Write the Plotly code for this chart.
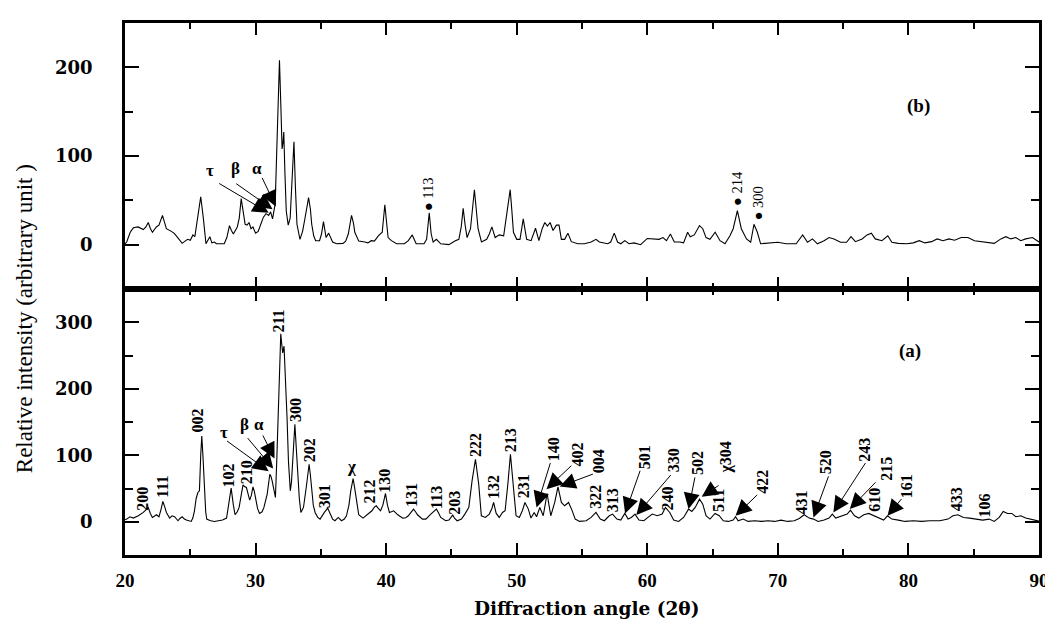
import plotly.graph_objects as go
from plotly.subplots import make_subplots

# ---------------- data ----------------
top_angle = [20.0, 20.13, 20.4, 20.64, 21.0, 21.2, 21.4, 21.6, 21.78, 21.95, 22.1, 22.4, 22.6, 22.87, 23.0,
             23.17, 23.55, 23.75, 23.93, 24.15, 24.38, 24.6, 24.8, 25.0, 25.2, 25.35, 25.5, 25.8, 26.0, 26.1,
             26.2, 26.35, 26.5, 26.65, 26.85, 27.0, 27.2, 27.6, 27.8, 28.0, 28.15, 28.3, 28.6, 28.75, 28.9,
             29.05, 29.2, 29.35, 29.5, 29.65, 29.8, 30.0, 30.2, 30.4, 30.6, 30.8, 31.0, 31.15, 31.3, 31.5,
             31.65, 31.83, 31.95, 32.03, 32.1, 32.16, 32.25, 32.35, 32.5, 32.65, 32.75, 32.94, 33.05, 33.17,
             33.4, 33.6, 33.75, 33.9, 34.06, 34.2, 34.3, 34.45, 34.6, 34.9, 35.05, 35.2, 35.3, 35.4, 35.6,
             35.75, 35.9, 36.2, 36.7, 36.9, 37.1, 37.35, 37.5, 37.6, 37.9, 38.36, 38.6, 38.86, 39.1, 39.4,
             39.7, 39.9, 40.05, 40.15, 40.4, 40.6, 40.8, 41.4, 41.7, 42.0, 42.15, 42.3, 42.9, 43.1, 43.3,
             43.45, 43.6, 43.85, 44.18, 44.8, 45.3, 45.57, 45.75, 45.9, 46.05, 46.2, 46.46, 46.6, 46.76, 46.9,
             47.04, 47.3, 47.7, 47.9, 48.1, 48.35, 48.66, 49.0, 49.24, 49.5, 49.62, 49.75, 50.0, 50.25, 50.5,
             50.65, 50.76, 51.1, 51.44, 51.7, 51.95, 52.15, 52.35, 52.56, 52.78, 53.04, 53.24, 53.42, 53.67,
             53.92, 54.18, 54.68, 55.19, 55.7, 56.07, 56.33, 56.96, 57.2, 57.47, 57.72, 57.97, 58.28, 58.6,
             58.99, 59.49, 60.0, 60.5, 60.9, 61.2, 61.47, 61.77, 62.07, 62.5, 62.78, 63.09, 63.29, 63.6, 64.0,
             64.25, 64.5, 64.8, 65.2, 65.57, 65.95, 66.33, 66.58, 66.9, 67.2, 67.6, 67.92, 68.17, 68.43, 68.68,
             69.24, 70.0, 70.63, 71.4, 71.9, 72.27, 72.65, 73.03, 73.54, 73.92, 74.3, 74.8, 75.26, 75.6, 75.94,
             76.45, 76.83, 77.16, 77.46, 77.97, 78.42, 78.73, 79.23, 79.87, 80.37, 80.83, 81.26, 81.77, 82.2,
             82.65, 83.1, 83.54, 84.04, 84.55, 85.06, 85.56, 86.07, 86.57, 87.08, 87.46, 87.84, 88.22, 88.6,
             88.98, 89.5, 90.0]
top_intensity = [1, 3, 14, 19, 20, 18, 17, 20, 25, 18, 14, 20, 22, 33, 25,
                 18, 15, 13, 10, 6, 1.5, 4, 6, 5, 11, 9, 23, 54, 30, 15,
                 1, 5, 9, 2, 3, 1, 1, 1, 8, 21.5, 16, 12, 20, 30, 52,
                 38, 23, 22, 25, 18, 20, 13, 15, 23, 31, 35, 33, 37, 29, 46,
                 130, 208, 150, 108, 115, 127, 80, 38, 22, 30, 60, 116, 65, 23,
                 6, 15, 27, 40, 53, 40, 23, 10, 4.5, 4.5, 12, 26, 14, 8, 13,
                 7, 3, 1, 1.5, 4, 12, 33, 24, 14, 4, 3, 2, 4.5, 4, 10,
                 14, 45, 20, 8, 4.5, 3, 1, 1, 4.5, 11, 5, 1, 1, 6, 36,
                 12, 3, 6, 1, 0, 4.5, 6, 20, 41, 22, 8, 18, 40, 62, 40,
                 18, 3, 6, 12, 20, 8, 11, 10, 33, 62, 40, 14, 6, 6, 29,
                 14, 6, 4.5, 18.5, 4.5, 18, 25, 21, 25, 16, 22, 22, 6, 6,
                 13, 3.4, 1, 1, 3, 6, 3, 1, 3, 13, 3, 1, 4.5, 1,
                 2, 0, 7, 6, 6, 8, 4.5, 12, 3, 3, 2, 14, 9, 11, 21.5,
                 18, 8, 6, 14, 4.5, 1, 10, 18, 38.5, 18, 6.5, 2.7, 23, 14, 1,
                 1.5, 2.7, 1, 1, 11, 2.7, 6.5, 1, 4.5, 8, 6.5, 2.7, 2.7, 9, 3.4,
                 6.5, 11, 13, 6.5, 4.5, 10, 2.7, 1.5, 1, 2, 4.5, 2, 3.4, 6.5,
                 4.5, 6.5, 5, 8, 8, 4.5, 3.4, 2.7, 1.5, 6.5, 9, 6.5, 8, 4.5,
                 6.5, 8, 3]

bottom_angle = [20.0, 20.13, 20.38, 20.64, 21.02, 21.2, 21.4, 21.6, 21.78, 21.95, 22.1, 22.41, 22.6, 22.75,
                22.9, 23.05, 23.17, 23.42, 23.6, 23.8, 24.06, 24.2, 24.38, 24.55, 24.7, 25.07, 25.2, 25.32,
                25.45, 25.58, 25.7, 25.8, 25.88, 25.98, 26.08, 26.18, 26.26, 26.5, 26.84, 27.2, 27.47, 27.78,
                27.95, 28.13, 28.3, 28.43, 28.6, 28.74, 28.9, 29.04, 29.15, 29.3, 29.45, 29.55, 29.68, 29.8,
                29.9, 30.0, 30.15, 30.3, 30.5, 30.64, 30.89, 31.09, 31.18, 31.27, 31.4, 31.52, 31.62, 31.72,
                31.85, 31.93, 32.0, 32.08, 32.18, 32.3, 32.41, 32.52, 32.66, 32.75, 32.84, 32.92, 33.01, 33.12,
                33.24, 33.35, 33.47, 33.67, 33.88, 34.0, 34.1, 34.2, 34.3, 34.42, 34.56, 34.75, 34.94, 35.1,
                35.27, 35.52, 35.65, 35.77, 35.9, 36.08, 36.33, 36.58, 36.8, 36.96, 37.15, 37.29, 37.47, 37.58,
                37.67, 37.8, 37.9, 38.23, 38.4, 38.61, 38.91, 39.1, 39.24, 39.4, 39.57, 39.75, 39.95, 40.1,
                40.25, 40.4, 40.58, 40.89, 41.27, 41.5, 41.7, 41.9, 42.1, 42.25, 42.4, 42.78, 43.04, 43.42,
                43.85, 44.0, 44.18, 44.56, 44.81, 45.1, 45.25, 45.44, 45.77, 46.03, 46.33, 46.58, 46.84, 47.09,
                47.2, 47.29, 47.6, 47.9, 48.1, 48.23, 48.43, 48.66, 48.91, 49.11, 49.32, 49.52, 49.75, 49.85,
                49.95, 50.2, 50.43, 50.63, 50.89, 51.09, 51.34, 51.52, 51.77, 52.03, 52.2, 52.33, 52.47, 52.61,
                52.91, 53.16, 53.3, 53.42, 53.67, 53.97, 54.23, 54.48, 54.81, 55.32, 55.7, 56.07, 56.4, 56.71,
                57.09, 57.34, 57.67, 57.97, 58.28, 58.53, 58.78, 59.06, 59.36, 59.74, 60.05, 60.38, 60.76,
                61.14, 61.39, 61.72, 62.02, 62.4, 62.78, 63.16, 63.41, 63.67, 64.0, 64.25, 64.5, 64.8, 65.19,
                65.51, 65.82, 66.2, 66.58, 66.76, 66.96, 67.34, 67.72, 68.22, 68.73, 69.24, 69.74, 70.25,
                70.76, 71.26, 71.64, 72.02, 72.4, 72.73, 73.08, 73.54, 73.92, 74.17, 74.43, 74.75, 75.06,
                75.31, 75.56, 75.87, 76.2, 76.58, 76.96, 77.34, 77.72, 78.1, 78.4, 78.73, 79.23, 79.74, 80.37,
                81.0, 81.64, 82.4, 83.03, 83.41, 83.79, 84.22, 84.68, 85.18, 85.69, 86.19, 86.57, 86.95, 87.26,
                87.59, 87.92, 88.22, 88.6, 88.98, 89.5, 90.0]
bottom_intensity = [3, 4, 7.5, 5.5, 9, 11, 14, 18, 21.5, 12, 6.5, 10.5, 7.5, 18,
                    30.5, 22, 14, 5.5, 9, 7.5, 1.5, 5, 7.5, 4, 2.5, 0.5, 6, 16.5,
                    35, 44, 46.5, 100, 129, 95, 46.5, 15, 4, 2, 0.5, 1.5, 2.5, 5.5,
                    25, 50.5, 25, 10.5, 15, 21.5, 40, 55.5, 53, 51.5, 40, 32.5, 40, 52.5,
                    46, 36.5, 20, 12.5, 15, 21.5, 41.5, 71.5, 68, 61.5, 45, 36.5, 90, 156.5,
                    250, 282.5, 268, 254, 264, 215, 156.5, 90, 46.5, 60, 86.5, 120, 146.5, 110,
                    66.5, 35, 14, 21.5, 51.5, 75, 86.5, 70, 46.5, 25, 14, 7, 4, 8,
                    14, 20.5, 15, 9, 4, 1.5, 6.5, 1.5, 4, 9, 25, 46.5, 65, 52,
                    41.5, 20, 10.5, 5.5, 8, 11.5, 16.5, 22, 24, 20, 16.5, 25, 42.5, 25,
                    14, 15, 16.5, 10.5, 5.5, 6, 9, 14, 19, 15, 10.5, 4, 4, 11.5,
                    19, 14, 6.5, 1.5, 2.5, 10, 5, 1.5, 4, 11.5, 21.5, 61.5, 94, 56.5,
                    25, 9, 6.5, 11.5, 20, 29, 12.5, 6.5, 14, 16.5, 56.5, 101.5, 51.5, 25,
                    9, 6.5, 16.5, 29, 19, 5.5, 14, 7.5, 21.5, 9, 25, 42.5, 25, 9,
                    29, 52.5, 40, 29, 24, 29, 17.5, 4, 0.5, 1.5, 6.5, 14, 4, 1.5,
                    9, 11.5, 4, 2.5, 12.5, 4, 6.5, 11.5, 2.5, 1.5, 6.5, 11.5, 9,
                    11.5, 21.5, 14, 2.5, 0.5, 6.5, 19, 15.5, 21.5, 34, 26.5, 9, 4, 12.5,
                    9, 1.5, 0.5, 2.5, 7.5, 1.5, 4, 0.5, 1.5, 0.5, 1.5, 0.5, 2.5,
                    0.5, 1.5, 5, 10.5, 5.5, 4, 0.5, 2.5, 5.5, 11.5, 5.5, 7.5, 9,
                    11.5, 17.5, 9, 5.5, 10.5, 12.5, 9, 6.5, 2.5, 9, 4, 2.5, 0.5, 1.5,
                    0.5, 1.5, 1.5, 4, 9, 10.5, 6.5, 5.5, 4, 2.5, 4, 0.5, 6.5, 15.5,
                    12.5, 12.5, 7.5, 9, 5.5, 3, 1]

x_tick_values = [20, 30, 40, 50, 60, 70, 80, 90]
top_y_ticks = [0, 100, 200]
bottom_y_ticks = [0, 100, 200, 300]

# panel (b) labels
top_peak_labels = ["\u25cf 113", "\u25cf 214", "\u25cf 300"]
top_peak_x = [43.2, 66.88, 68.5]
top_peak_y = [57, 63, 47]

phase_symbols = ["\u03c4", "\u03b2", "\u03b1"]
top_phase_x = [26.5, 28.5, 30.1]
top_phase_y = [84, 86, 86]
top_arrow_tail_x = [27.1, 28.4, 30.45]
top_arrow_tail_y = [70, 70, 77]
top_arrow_head_x = [31.0, 31.3, 31.55]
top_arrow_head_y = [36, 40, 43]

# panel (a) labels
bottom_phase_x = [27.6, 29.12, 30.26]
bottom_phase_y = [134, 146, 146]
bottom_arrow_tail_x = [27.7, 29.3, 30.5]
bottom_arrow_tail_y = [123, 128, 132]
bottom_arrow_head_x = [31.0, 31.35, 31.45]
bottom_arrow_head_y = [76, 80, 95]

plain_labels = ["200", "111", "002", "102", "210", "211", "300", "202", "301", "212", "130", "131",
                "113", "203", "222", "132", "213", "231", "322", "313", "240", "511", "431", "610",
                "433", "106"]
plain_x = [21.35, 22.9, 25.57, 27.93, 29.3, 31.77, 33.04, 34.1, 35.27, 38.74, 39.87, 41.9,
           43.85, 45.27, 46.79, 48.23, 49.49, 50.58, 56.07, 57.34, 61.52, 65.4, 71.77, 77.34,
           83.66, 85.82]
plain_y = [34, 52.5, 152, 69, 75, 302, 168.5, 107.5, 39, 45, 62.5, 40,
           36.5, 28.5, 115, 51.5, 122.5, 54, 37.5, 31.5, 35, 32.5, 29, 32.5,
           34, 25]

chi_x, chi_y = 37.34, 83

arrow_labels = ["140", "402", "004", "501", "330", "502", "\u03c7304", "422", "520", "243", "215", "161"]
arrow_text_x = [52.78, 54.63, 56.33, 59.8, 61.97, 63.84, 66.05, 68.86, 73.67, 76.63, 78.3, 79.87]
arrow_text_y = [109, 101.5, 91.5, 96.5, 92.5, 89, 97, 60, 89, 109, 80, 53]
arrow_tail_x = [52.61, 54.3, 55.95, 59.49, 61.9, 63.67, 65.57, 68.53, 73.92, 76.78, 77.59, 79.56]
arrow_tail_y = [90.5, 86.5, 72.5, 79, 72.5, 69, 56, 42.5, 70.5, 90.5, 61.5, 36.5]
arrow_head_x = [51.52, 52.28, 53.29, 58.3, 59.16, 63.16, 64.17, 66.76, 72.73, 74.25, 75.51, 78.4]
arrow_head_y = [21.5, 49, 53, 12.5, 10, 19, 37.5, 9, 6.5, 14, 19, 9]

# ---------------- figure ----------------
fig = make_subplots(rows=2, cols=1, shared_xaxes=True, vertical_spacing=0)

fig.add_trace(go.Scatter(x=top_angle, y=top_intensity, mode="lines",
                         line=dict(color="black", width=1.1), showlegend=False), row=1, col=1)
fig.add_trace(go.Scatter(x=bottom_angle, y=bottom_intensity, mode="lines",
                         line=dict(color="black", width=1.1), showlegend=False), row=2, col=1)

SERIF = "Liberation Serif"
axis_common = dict(showline=True, linecolor="black", linewidth=2.5, mirror="allticks",
                   ticks="inside", tickcolor="black", tickwidth=2, showgrid=False, zeroline=False)

fig.update_xaxes(range=[20, 90], tickvals=x_tick_values, ticklen=12,
                 minor=dict(dtick=5, tick0=20, ticks="inside", ticklen=6, tickcolor="black", tickwidth=2),
                 **axis_common)
fig.update_xaxes(showticklabels=False, row=1, col=1)
fig.update_xaxes(showticklabels=True, ticklabelstandoff=6,
                 tickfont=dict(family=SERIF, size=19, color="black", weight="bold"), row=2, col=1)

fig.update_yaxes(ticklen=14, ticklabelstandoff=26,
                 minor=dict(dtick=50, tick0=0, ticks="inside", ticklen=8, tickcolor="black", tickwidth=2),
                 tickfont=dict(family="DejaVu Serif", size=18, color="black", weight="bold"),
                 **axis_common)
fig.update_yaxes(range=[-50, 250], tickvals=top_y_ticks, row=1, col=1)
fig.update_yaxes(range=[-50, 350], tickvals=bottom_y_ticks, row=2, col=1)

ann = []
lab_font_top = dict(family=SERIF, size=14.5, color="black")
lab_font = dict(family=SERIF, size=16, color="black", weight="bold")
sym_font = dict(family=SERIF, size=17, color="black", weight="bold")
ARROW = dict(showarrow=True, arrowhead=2, arrowsize=3.2, arrowwidth=1, arrowcolor="black", text="")

# top panel
for t, x, y in zip(top_peak_labels, top_peak_x, top_peak_y):
    ann.append(dict(x=x, y=y, xref="x", yref="y", text=t, textangle=-90, showarrow=False, font=lab_font_top))
for s, x, y in zip(phase_symbols, top_phase_x, top_phase_y):
    ann.append(dict(x=x, y=y, xref="x", yref="y", text=s, showarrow=False, font=sym_font))
for tx, ty, hx, hy in zip(top_arrow_tail_x, top_arrow_tail_y, top_arrow_head_x, top_arrow_head_y):
    ann.append(dict(x=hx, y=hy, ax=tx, ay=ty, xref="x", yref="y", axref="x", ayref="y", **ARROW))
ann.append(dict(x=80.8, y=156, xref="x", yref="y", text="(b)", showarrow=False,
                font=dict(family=SERIF, size=19, color="black", weight="bold")))

# bottom panel
for s, x, y in zip(phase_symbols, bottom_phase_x, bottom_phase_y):
    ann.append(dict(x=x, y=y, xref="x2", yref="y2", text=s, showarrow=False, font=sym_font))
for tx, ty, hx, hy in zip(bottom_arrow_tail_x, bottom_arrow_tail_y, bottom_arrow_head_x, bottom_arrow_head_y):
    ann.append(dict(x=hx, y=hy, ax=tx, ay=ty, xref="x2", yref="y2", axref="x2", ayref="y2", **ARROW))
for t, x, y in zip(plain_labels, plain_x, plain_y):
    ann.append(dict(x=x, y=y, xref="x2", yref="y2", text=t, textangle=-90, showarrow=False, font=lab_font))
ann.append(dict(x=chi_x, y=chi_y, xref="x2", yref="y2", text="\u03c7", showarrow=False, font=sym_font))
for t, x, y in zip(arrow_labels, arrow_text_x, arrow_text_y):
    ann.append(dict(x=x, y=y, xref="x2", yref="y2", text=t, textangle=-90, showarrow=False, font=lab_font))
for tx, ty, hx, hy in zip(arrow_tail_x, arrow_tail_y, arrow_head_x, arrow_head_y):
    ann.append(dict(x=hx, y=hy, ax=tx, ay=ty, xref="x2", yref="y2", axref="x2", ayref="y2", **ARROW))
ann.append(dict(x=80.1, y=257, xref="x2", yref="y2", text="(a)", showarrow=False,
                font=dict(family=SERIF, size=19, color="black", weight="bold")))

# axis titles (paper coordinates; plot area spans 117..1038 px horizontally, 14..547 px vertically)
plot_w = 1053 - 117 - 15
plot_h = 620 - 14 - 73
ann.append(dict(x=(16 - 117) / plot_w, y=(547 - 310) / plot_h, xref="paper", yref="paper",
                text="Relative intensity (arbitrary unit )",
                textangle=-90, showarrow=False, xanchor="center", yanchor="middle",
                font=dict(family=SERIF, size=23, color="black")))
ann.append(dict(x=0.505, y=-(601 - 547) / plot_h, xref="paper", yref="paper", text="Diffraction angle (2\u03b8)",
                showarrow=False, xanchor="center", yanchor="middle",
                font=dict(family="DejaVu Serif", size=18.5, color="black", weight="bold")))

fig.update_layout(width=1053, height=620, margin=dict(l=117, r=15, t=14, b=73),
                  plot_bgcolor="white", paper_bgcolor="white", annotations=ann, showlegend=False)

fig.write_html("out.html")
